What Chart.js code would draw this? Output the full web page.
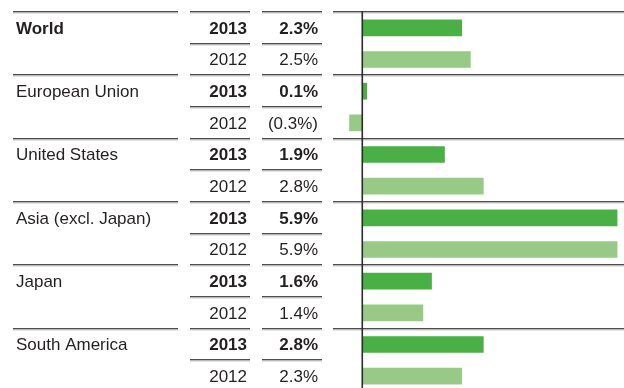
<!DOCTYPE html>
<html>
<head>
<meta charset="utf-8">
<script src="https://cdn.jsdelivr.net/npm/chart.js@4/dist/chart.umd.min.js"></script>
<style>
  html, body { margin: 0; padding: 0; background: #fff; overflow: hidden; }
  #wrap { width: 624px; height: 388px; overflow: hidden; }
  canvas { display: block; }
</style>
</head>
<body>
<div id="wrap"><canvas id="c" width="624" height="392"></canvas></div>
<script>
// GDP growth by region, current year vs. previous year
const regions = ['World', 'European Union', 'United States', 'Asia (excl. Japan)', 'Japan', 'South America'];
const years = ['2013', '2012'];
const growth2013 = [2.3, 0.1, 1.9, 5.9, 1.6, 2.8];
const growth2012 = [2.5, -0.3, 2.8, 5.9, 1.4, 2.3];

const DARK_GREEN = '#4aaf45';
const LIGHT_GREEN = '#98c987';
const TEXT = '#231f20';
const FONT = '"Liberation Sans", Arial, Helvetica, sans-serif';
const SIZE = '17px ';

// one row per region/year pair
const rowLabels = [];
const rowValues = [];
const rowColors = [];
regions.forEach((r, i) => {
  rowLabels.push(r + ' ' + years[0]);
  rowValues.push(growth2013[i]);
  rowColors.push(DARK_GREEN);
  rowLabels.push(r + ' ' + years[1]);
  rowValues.push(growth2012[i]);
  rowColors.push(LIGHT_GREEN);
});

function fmt(v) {
  const s = Math.abs(v).toFixed(1) + '%';
  return v < 0 ? '(' + s + ')' : s;
}

// column geometry of the table on the left
const COL = {
  label: [13, 178],
  year: [190, 250],
  value: [262, 322],
  bars: [333, 624]
};

function hline(ctx, x0, x1, y) {
  ctx.fillStyle = '#4d4d4d';
  ctx.fillRect(x0, Math.round(y) - 1, x1 - x0, 1.4);
  ctx.fillStyle = '#b8b8b8';
  ctx.fillRect(x0, Math.round(y) + 0.4, x1 - x0, 1);
}

const tablePlugin = {
  id: 'growthTable',
  beforeDatasetsDraw(chart) {
    const ctx = chart.ctx;
    const y = chart.scales.y;
    const band = y.getPixelForValue(1) - y.getPixelForValue(0);
    ctx.save();
    regions.forEach((r, i) => {
      const top = y.getPixelForValue(i * 2) - band / 2;
      const mid = top + band;
      // region separator across all columns
      hline(ctx, COL.label[0], COL.label[1], top);
      hline(ctx, COL.year[0], COL.year[1], top);
      hline(ctx, COL.value[0], COL.value[1], top);
      hline(ctx, COL.bars[0], COL.bars[1], top);
      // year separator inside a region
      hline(ctx, COL.year[0], COL.year[1], mid);
      hline(ctx, COL.value[0], COL.value[1], mid);
    });
    ctx.restore();
  },
  afterDraw(chart) {
    const ctx = chart.ctx;
    const y = chart.scales.y;
    const x = chart.scales.x;
    ctx.save();
    // zero line
    const x0 = x.getPixelForValue(0);
    ctx.fillStyle = '#2b2b2b';
    ctx.fillRect(x0 - 1, chart.chartArea.top - 1, 1.6, chart.chartArea.bottom - chart.chartArea.top + 2);

    ctx.fillStyle = TEXT;
    ctx.textBaseline = 'middle';
    regions.forEach((r, i) => {
      const yc1 = y.getPixelForValue(i * 2) + 1;
      const yc2 = y.getPixelForValue(i * 2 + 1) + 1;
      ctx.textAlign = 'left';
      ctx.font = (i === 0 ? 'bold ' : '') + SIZE + FONT;
      ctx.fillText(r, 16, yc1);

      ctx.textAlign = 'right';
      ctx.font = 'bold ' + SIZE + FONT;
      ctx.fillText(years[0], 247, yc1);
      ctx.fillText(fmt(growth2013[i]), 318, yc1);
      ctx.font = SIZE + FONT;
      ctx.fillText(years[1], 247, yc2);
      ctx.fillText(fmt(growth2012[i]), 318, yc2);
    });
    ctx.restore();
  }
};

new Chart(document.getElementById('c'), {
  type: 'bar',
  data: {
    labels: rowLabels,
    datasets: [{
      data: rowValues,
      backgroundColor: rowColors,
      borderWidth: 0,
      barThickness: 16
    }]
  },
  options: {
    indexAxis: 'y',
    responsive: false,
    animation: false,
    layout: { padding: { left: 334, right: 0, top: 12, bottom: 0 } },
    plugins: { legend: { display: false }, tooltip: { enabled: false } },
    scales: {
      x: { type: 'linear', min: -0.66, max: 6.06, display: false, grid: { display: false } },
      y: { type: 'category', display: false, grid: { display: false } }
    }
  },
  plugins: [tablePlugin]
});
</script>
</body>
</html>
